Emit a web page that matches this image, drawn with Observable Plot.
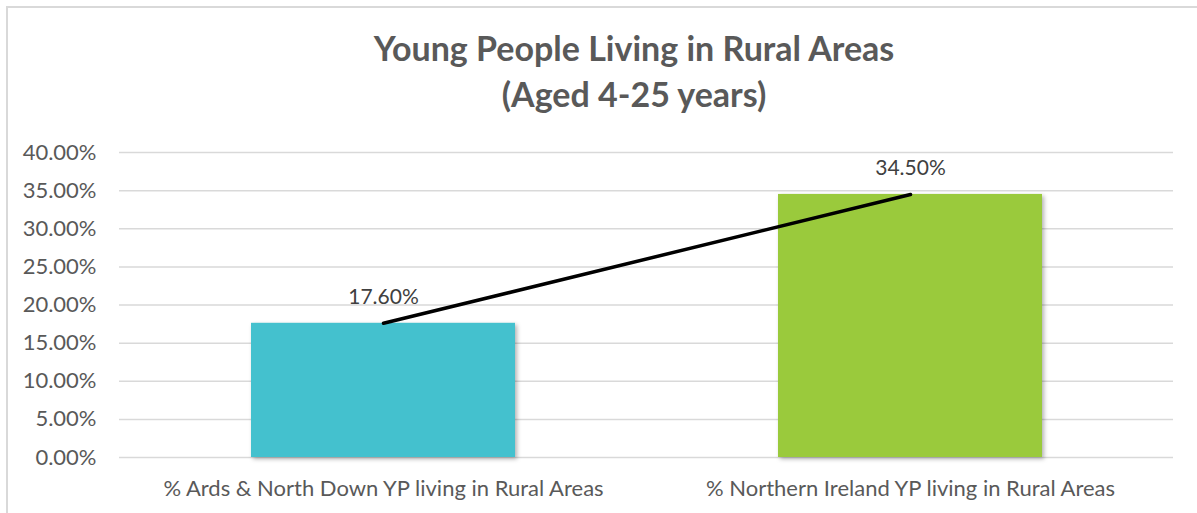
<!DOCTYPE html>
<html>
<head>
<meta charset="utf-8">
<script src="https://cdn.jsdelivr.net/npm/d3@7"></script>
<script src="https://cdn.jsdelivr.net/npm/@observablehq/plot@0.6"></script>
<style>
  html, body { margin: 0; padding: 0; background: #fff; overflow: hidden; }
  #wrap { position: relative; width: 1197px; height: 513px; }
  #frame { position: absolute; left: 6px; top: 6px; width: 1300px; height: 600px;
           border-left: 2px solid #d9d9d9; border-top: 2px solid #d9d9d9; pointer-events: none; }
  #title { position: relative; height: 125px; box-sizing: border-box; padding-top: 25px;
           font-family: Lato, "Open Sans", sans-serif; font-weight: bold; font-size: 34px;
           line-height: 46px; color: #595959; text-align: center; width: 1000px; margin-left: 134px; }
  #chart svg { display: block; }
</style>
</head>
<body>
<div id="wrap">
  <div id="frame"></div>
  <div id="title">Young People Living in Rural Areas<br>(Aged 4-25 years)</div>
  <div id="chart"></div>
</div>
<script>
const categories = [
  "% Ards & North Down YP living in Rural Areas",
  "% Northern Ireland YP living in Rural Areas"
];
const values = [17.6, 34.5];
const barColors = ["#44C1CE", "#9ACA3C"];
const yTicks = [0, 5, 10, 15, 20, 25, 30, 35, 40];

const data = categories.map((c, i) => ({category: c, value: values[i], color: barColors[i]}));

const chart = Plot.plot({
  width: 1197,
  height: 388,
  marginTop: 27,
  marginBottom: 56,
  marginLeft: 119,
  marginRight: 24,
  style: {fontFamily: "Lato, 'Open Sans', sans-serif", color: "#595959", background: "transparent"},
  x: {domain: categories, paddingInner: 0.5, paddingOuter: 0.25, label: null},
  y: {domain: [0, 40], label: null},
  marks: [
    Plot.gridY(yTicks, {stroke: "#d9d9d9", strokeOpacity: 1, strokeWidth: 1.5}),
    Plot.barY(data, {x: "category", y: "value", fill: "color",
      imageFilter: "drop-shadow(2px 2px 2px rgba(0,0,0,0.3))"}),
    Plot.line(data, {x: "category", y: "value", stroke: "#000", strokeWidth: 3.5}),
    Plot.text(data, {x: "category", y: "value", text: d => d.value.toFixed(2) + "%",
      dy: -26, fontSize: 21, fill: "#404040"}),
    Plot.axisY(yTicks, {tickSize: 0, tickPadding: 23, fontSize: 22,
      tickFormat: d => d.toFixed(2) + "%", label: null}),
    Plot.axisX({tickSize: 0, tickPadding: 23, fontSize: 22, label: null})
  ]
});
document.getElementById("chart").appendChild(chart);
</script>
</body>
</html>
